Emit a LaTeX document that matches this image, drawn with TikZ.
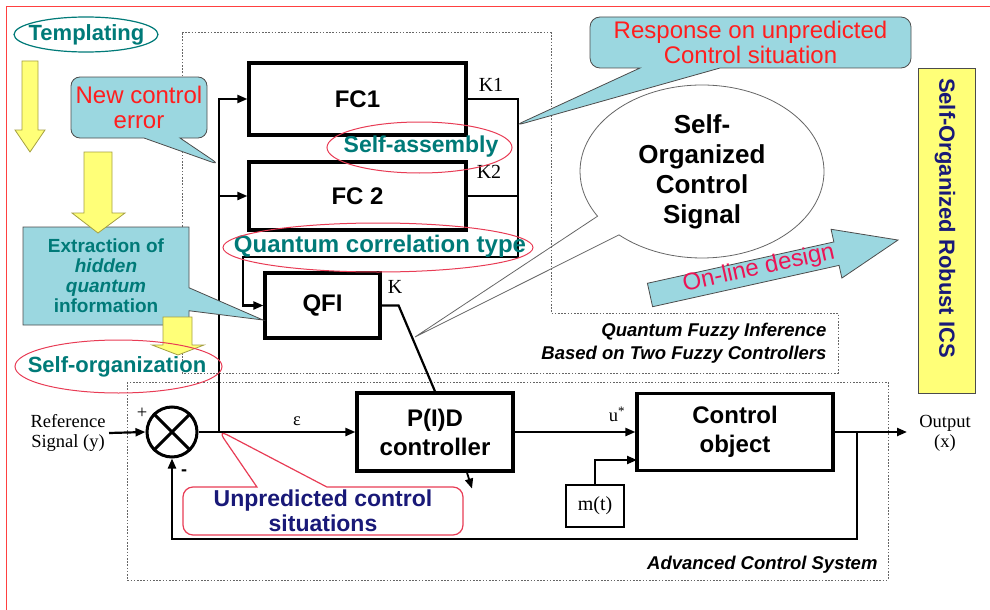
\documentclass[tikz,border=0pt]{standalone}
\usepackage{fontspec}
\setmainfont{Liberation Serif}
\setsansfont{Liberation Sans}
\usetikzlibrary{arrows.meta,shapes.geometric,shapes.callouts,calc}
\definecolor{cyanfill}{RGB}{155,215,224}
\definecolor{tealtxt}{RGB}{0,122,120}
\definecolor{redtxt}{RGB}{255,30,30}
\definecolor{pinktxt}{RGB}{235,20,85}
\definecolor{ringred}{RGB}{232,60,85}
\definecolor{navytxt}{RGB}{25,25,120}
\definecolor{yellowfill}{RGB}{255,255,120}
\newcommand{\fsz}[2]{\fontsize{#1}{#2}\selectfont}

\begin{document}
\begin{tikzpicture}[x=1pt,y=-1pt,
  block/.style={draw,line width=3.2pt,fill=white,inner sep=0pt,align=center,font=\sffamily\bfseries\fsz{24}{29}},
  wire/.style={line width=2.2pt},
  sig/.style={wire,-{Triangle[length=10pt,width=8pt]}},
  frame/.style={black!60,line width=1pt,dash pattern=on 1.6pt off 1.6pt},
  ring/.style={ringred,line width=1pt},
  bubble/.style={fill=cyanfill,draw=black!70,line width=0.8pt,align=center},
  tag/.style={font=\sffamily\bfseries\fsz{22}{24},text=tealtxt},
  serif/.style={font=\fsz{18.5}{20}},
  fall/.style={fill=yellowfill,draw=black!40!yellow,line width=0.8pt}]

\useasboundingbox (0,0) rectangle (990,610);
\draw[red!75, line width=1pt] (6,610) -- (6,7) -- (990,7);

% speech bubble first, the frames run over its pointer
\node[ellipse callout, draw=black!60, fill=white, line width=0.8pt, minimum width=244, minimum height=173,
  inner sep=0pt, callout absolute pointer={(415,337)}, callout pointer arc=16, align=center,
  font=\sffamily\bfseries\fsz{26}{30}] (sosig) at (702,171.5) {Self-\\Organized\\Control\\Signal};

% dotted frames
\draw[frame] (182,33) -- (551,33) -- (551,313) -- (838,313) -- (838,373) -- (182,373) -- cycle;
\draw[frame] (127,382) rectangle (888,580);
\node[font=\sffamily\bfseries\itshape\fsz{18.5}{23}, align=right, anchor=east] (qfilab) at (830,343)
  {Quantum Fuzzy Inference\\Based on Two Fuzzy Controllers};
\node[font=\sffamily\bfseries\itshape\fsz{18.5}{23}, anchor=east] (acslab) at (881,565) {Advanced Control System};

% blocks
\node[block, minimum width=217, minimum height=72] (fc1) at (357.5,99) {FC1};
\node[block, minimum width=217, minimum height=68] (fc2) at (357.5,196) {FC 2};
\node[block, minimum width=115, minimum height=65] (qfi) at (322.5,305.5) {QFI};
\node[block, minimum width=156, minimum height=78] (pid) at (435,432) {P(I)D\\controller};
\node[block, minimum width=196, minimum height=77] (plant) at (735,432) {Control\\object};
\node[draw, line width=2pt, minimum width=58, minimum height=42, inner sep=0pt, font=\fsz{20}{22}] (mt) at (595,506) {m(t)};
\node[draw, circle, line width=3pt, minimum size=50, inner sep=0pt] (sum) at (172,432) {};
\draw[line width=3pt] (sum.north west) -- (sum.south east) (sum.north east) -- (sum.south west);

% signals
\coordinate (tap) at (219,432);
\coordinate (busbot) at (518,257);
\coordinate (qin) at (243,257);
\coordinate (mtin) at (637,460);
\coordinate (fb) at (857,432);
\coordinate (out) at (907,432);
\node[serif, align=center] (refsig) at (68,433) {Reference\\Signal (y)};
\draw[sig] (refsig.east) -- (sum.west);
\draw[sig] (sum.east) -- (pid.west);
\draw[sig] (tap) |- (fc1.west);
\draw[sig] (tap |- fc2.west) -- (fc2.west);
\draw[sig] (fc1.east) -| (busbot) -- (qin) |- (qfi.west);
\draw[wire] (fc2.east) -- (fc2.east -| busbot);
\draw[wire] (qfi.east) -- ++(17,0) -- (pid.north);
\draw[sig] (pid.east) -- (plant.west);
\draw[sig] (mt.north) |- (mtin);
\draw[sig] (plant.east) -- (out);
\draw[sig] (fb) -- ++(0,107) -| (sum.south);
\draw[sig, line width=1.8pt] ($(pid.south)+(32,0)$) -- ++(5,16);

\node[serif] (plus) at (142,413) {+};
\node[font=\sffamily\bfseries\fsz{18}{20}] (minus) at (184,473) {-};
\node[serif] (eps) at (297,421) {ε};
\node[serif] (ustar) at (617,414) {u\textsuperscript{*}};
\node[serif, align=center] (outlab) at (945,433) {Output\\(x)};
\node[font=\fsz{20}{22}] (k1) at (491,85) {K1};
\node[font=\fsz{20}{22}] (k2) at (489,172) {K2};
\node[font=\fsz{20}{22}] (k) at (395,287) {K};

% tags
\filldraw[fall] (22,61) -- (38,61) -- (38,130) -- (45,130) -- (30,152) -- (15,130) -- (22,130) -- cycle;
\node[tag] (templ) at (86.5,35) {Templating};
\draw[tealtxt, line width=1.2pt] (86,34.5) ellipse [x radius=72, y radius=17.5];
\node[tag, font=\sffamily\bfseries\fsz{23}{25}] (selfasm) at (421,147) {Self-assembly};
\draw[ring] (419.5,147.5) ellipse [x radius=92.5, y radius=25.5];
\node[tag, font=\sffamily\bfseries\fsz{24}{26}] (qcorr) at (380,246) {Quantum correlation type};
\draw[ring] (378,247.5) ellipse [x radius=155, y radius=24.5];

% callouts
\node[rectangle callout, bubble, rounded corners=9pt, minimum width=136, minimum height=61, inner sep=0pt,
  callout absolute pointer={(220,165)}, callout pointer width=36pt,
  font=\sffamily\fsz{24}{25}, text=redtxt] (newerr) at (139,107.5) {New control\\error};
\node[rectangle callout, bubble, rounded corners=10pt, minimum width=321, minimum height=51, inner sep=0pt,
  callout absolute pointer={(514,126)}, callout pointer width=80pt,
  font=\sffamily\fsz{24}{25}, text=redtxt] (resp) at (750.5,42.5) {Response on unpredicted\\Control situation};
\node[rectangle callout, bubble, minimum width=166, minimum height=98, inner sep=0pt,
  callout absolute pointer={(263,320)}, callout pointer width=23pt,
  font=\sffamily\bfseries\fsz{19}{20}, text=tealtxt] (extract) at (106,276)
  {Extraction of\\\textit{hidden}\\\textit{quantum}\\information};
\node[rectangle callout, draw=ringred, fill=white, line width=1.2pt, rounded corners=10pt, align=center,
  minimum width=280, minimum height=48, inner sep=0pt, callout absolute pointer={(218,430)},
  callout pointer width=70pt, font=\sffamily\bfseries\fsz{23}{25}, text=navytxt] (unpred) at (323,511)
  {Unpredicted control\\situations};

\filldraw[fall] (84,152) -- (112,152) -- (112,213) -- (125,213) -- (98,233) -- (72,213) -- (84,213) -- cycle;
\filldraw[fall] (163,317) -- (192,317) -- (192,345) -- (204,345) -- (178,355) -- (152,345) -- (163,345) -- cycle;
\node[tag] (selforg) at (117,367) {Self-organization};
\draw[ring] (118.5,366.5) ellipse [x radius=103.5, y radius=26.5];

% on-line design
\begin{scope}[shift={(650,295)}, rotate=12.5]
\filldraw[bubble] (0,-12) -- (191,-12) -- (191,-25) -- (254,0) -- (191,25) -- (191,12) -- (0,12) -- cycle;
\node[rotate=12.5, font=\sffamily\fsz{24}{26}, text=pinktxt] (online) at (112,-2) {On-line design};
\end{scope}

\node[draw=black!70, line width=1pt, fill=yellowfill, minimum width=57, minimum height=324, inner sep=0pt] (icsbar) at (946.5,231) {};
\node[rotate=-90, font=\sffamily\bfseries\fsz{22}{24}, text=navytxt] (icstext) at (945,218) {Self-Organized Robust ICS};
\end{tikzpicture}
\end{document}
